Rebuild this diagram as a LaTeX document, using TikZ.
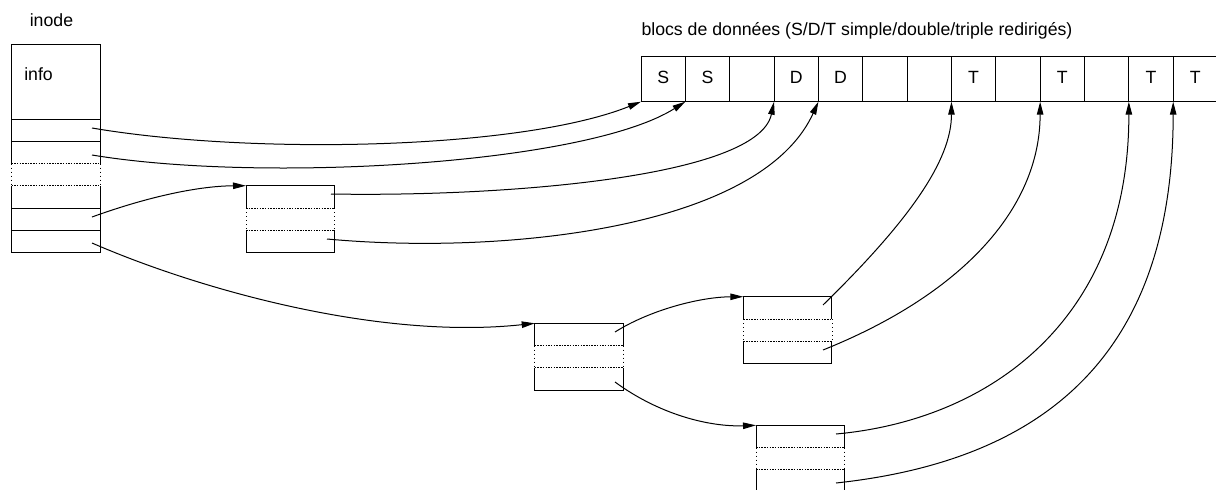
\documentclass[tikz,border=0pt]{standalone}
\usepackage{fontspec}
\setmainfont{Liberation Sans}
\usetikzlibrary{arrows.meta}
\begin{document}
\begin{tikzpicture}[x=1pt,y=-1pt,
  every node/.style={inner sep=0pt, outer sep=0pt},
  txt/.style={font=\fontsize{17.7}{20}\selectfont},
  lbl/.style={txt, anchor=base west},
  frame/.style={line width=1pt},
  slot/.style={minimum width=88.6pt, minimum height=22.3pt, anchor=north west},
  fullslot/.style={slot, draw, frame},
  cell/.style={draw, frame, txt, minimum width=44.35pt, minimum height=44.8pt,
    anchor=north west, text height=12.5pt, text depth=4.5pt},
  hgap/.style={line width=0.8pt, dash pattern=on 1.5pt off 1.2pt},
  vgap/.style={line width=0.8pt, dash pattern=on 1pt off 3pt},
  ptr/.style={line width=1pt, -{Triangle[length=13pt,width=6.5pt]}},
]
\useasboundingbox (0,0) rectangle (1216,490);

% two slots separated by an elided (dotted) stretch
\newcommand{\slotpair}[2]{%
  \draw[frame] (#1.south west) -- (#1.north west) -- (#1.north east) -- (#1.south east);
  \draw[frame] (#2.north west) -- (#2.south west) -- (#2.south east) -- (#2.north east);
  \draw[hgap] (#1.south west) -- (#1.south east);
  \draw[hgap] (#2.north west) -- (#2.north east);
  \draw[vgap] (#1.south west) -- (#2.north west);
  \draw[vgap] (#1.south east) -- (#2.north east);
}

% ---------------- inode ----------------
\node[lbl] (tinode) at (29.8,26.5) {inode};
\node[draw, frame, minimum width=88.6pt, minimum height=75pt, anchor=north west] (info) at (11.5,44) {};
\node[lbl] (tinfo) at (24.3,80) {info};
\node[fullslot] (in1) at (11.5,119) {};
\node[slot] (in2) at (11.5,141.3) {};
\node[slot] (in3) at (11.5,185.7) {};
\node[fullslot] (in4) at (11.5,208) {};
\node[fullslot] (in5) at (11.5,230.3) {};
\slotpair{in2}{in3}

% ---------------- indirection blocks ----------------
\node[slot] (s1) at (246,185.7) {};
\node[slot] (s2) at (246,230) {};
\slotpair{s1}{s2}

\node[slot] (a1) at (534.7,323.3) {};
\node[slot] (a2) at (534.7,367.7) {};
\slotpair{a1}{a2}

\node[slot] (u1) at (743.3,296.7) {};
\node[slot] (u2) at (743.3,341) {};
\slotpair{u1}{u2}

\node[slot] (v1) at (756,425.3) {};
\node[slot] (v2) at (756,469.3) {};
\slotpair{v1}{v2}

% ---------------- data blocks ----------------
\node[lbl] (tdata) at (641.5,35) {blocs de données (S/D/T simple/double/triple redirigés)};
\foreach \k/\t in {0/S,1/S,2/,3/D,4/D,5/,6/,7/T,8/,9/T,10/,11/T,12/T}{
  \node[cell] (b\k) at ({641+\k*44.35},56.9) {\t};
}

% ---------------- pointer origins ----------------
\coordinate (p1) at (92,128);
\coordinate (p2) at (92,155);
\coordinate (p5) at (92,217);
\coordinate (p6) at (92,243);
\coordinate (q1) at (331,194);
\coordinate (q2) at (327,239);
\coordinate (r1) at (615,332);
\coordinate (r2) at (615,382);
\coordinate (w1) at (823,305);
\coordinate (w2) at (823,350);
\coordinate (z1) at (836,434);
\coordinate (z2) at (836,483);

% ---------------- pointers ----------------
\draw[ptr] (p1) .. controls (250,155) and (520,150) .. (b0.south west);
\draw[ptr] (p2) .. controls (260,183) and (585,165) .. (b1.south west);
\draw[ptr] (p5) .. controls (150,196) and (200,186) .. (s1.north west);
\draw[ptr] (p6) .. controls (200,290) and (380,340) .. (a1.north west);

\draw[ptr] (q1) .. controls (500,197) and (758,178) .. (b3.south west);
\draw[ptr] (q2) .. controls (500,255) and (760,230) .. (b4.south west);

\draw[ptr] (r1) .. controls (650,310) and (700,297) .. (u1.north west);
\draw[ptr] (r2) .. controls (660,415) and (710,427) .. (v1.north west);

\draw[ptr] (w1) .. controls (910,220) and (951.5,160) .. (b7.south west);
\draw[ptr] (w2) .. controls (960,295) and (1040,210) .. (b9.south west);
\draw[ptr] (z1) .. controls (990,420) and (1129,320) .. (b11.south west);
\draw[ptr] (z2) .. controls (1050,460) and (1173,350) .. (b12.south west);
\end{tikzpicture}
\end{document}
